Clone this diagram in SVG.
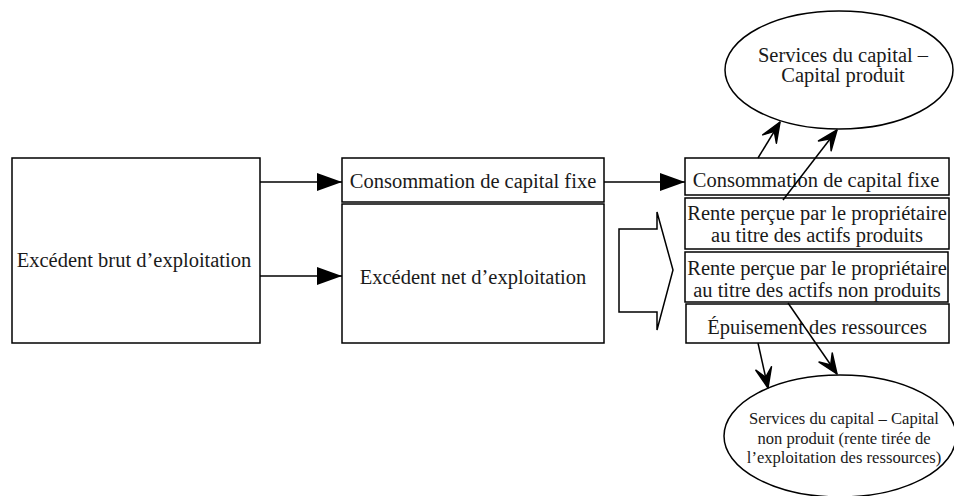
<svg xmlns="http://www.w3.org/2000/svg" width="954" height="496" viewBox="0 0 954 496">
<defs>
<style>
.box{fill:#fff;stroke:#000;stroke-width:1.5}
.t{font-family:"Liberation Serif","Times New Roman",serif;font-size:20.5px;fill:#1a1a1a;text-anchor:middle}
.ts{font-family:"Liberation Serif","Times New Roman",serif;font-size:16.6px;fill:#1a1a1a;text-anchor:middle}
.ln{stroke:#000;stroke-width:1.5;fill:none}
</style>
<marker id="tri" markerUnits="userSpaceOnUse" markerWidth="28" markerHeight="22" refX="25" refY="9" orient="auto">
<path d="M0,0 L25,9 L0,18 Z" fill="#000"/>
</marker>
<marker id="vee" markerUnits="userSpaceOnUse" markerWidth="26" markerHeight="22" refX="22" refY="10" orient="auto">
<path d="M22,10 L2,2 L11,10 L2,18 Z" fill="#000" stroke="#000" stroke-width="1.5" stroke-linejoin="round"/>
</marker>
</defs>
<rect width="954" height="496" fill="#fff"/>

<g id="ebe">
<rect class="box" x="12" y="158" width="248" height="185"/>
<text class="t" x="134" y="267">Excédent brut d’exploitation</text>
</g>

<g id="ccf-mid">
<rect class="box" x="342" y="158" width="262" height="44"/>
<text class="t" x="473" y="188">Consommation de capital fixe</text>
</g>

<g id="ene">
<rect class="box" x="342" y="204" width="262" height="139"/>
<text class="t" x="473" y="284">Excédent net d’exploitation</text>
</g>

<g id="block-arrow">
<path class="ln" d="M619,229 L657,229 L657,212 L673,270 L657,330 L657,312 L619,312 Z"/>
</g>

<g id="ccf-right">
<rect class="box" x="685" y="158" width="264" height="37"/>
<text class="t" x="816" y="187">Consommation de capital fixe</text>
</g>

<g id="rente-produits">
<rect class="box" x="685" y="198" width="264" height="51"/>
<text class="t" x="817" y="220">Rente perçue par le propriétaire</text>
<text class="t" x="817" y="242">au titre des actifs produits</text>
</g>

<g id="rente-non-produits">
<rect class="box" x="685" y="252" width="263" height="50"/>
<text class="t" x="817" y="275">Rente perçue par le propriétaire</text>
<text class="t" x="817" y="297">au titre des actifs non produits</text>
</g>

<g id="epuisement">
<rect class="box" x="686" y="304" width="263" height="39"/>
<text class="t" x="817" y="334">Épuisement des ressources</text>
</g>

<g id="services-produit">
<ellipse class="box" cx="839" cy="70" rx="114" ry="59"/>
<text class="t" x="843" y="62">Services du capital –</text>
<text class="t" x="843" y="82">Capital produit</text>
</g>

<g id="services-non-produit">
<ellipse class="box" cx="840" cy="436" rx="116" ry="61"/>
<text class="ts" x="844" y="424">Services du capital – Capital</text>
<text class="ts" x="844" y="444">non produit (rente tirée de</text>
<text class="ts" x="844" y="463">l’exploitation des ressources)</text>
</g>

<g id="connectors">
<line class="ln" x1="260" y1="182" x2="342" y2="182" marker-end="url(#tri)"/>
<line class="ln" x1="260" y1="276" x2="342" y2="276" marker-end="url(#tri)"/>
<line class="ln" x1="604" y1="182" x2="685" y2="182" marker-end="url(#tri)"/>
<line class="ln" x1="758" y1="158" x2="780" y2="122" marker-end="url(#vee)"/>
<line class="ln" x1="783" y1="200" x2="837" y2="130" marker-end="url(#vee)"/>
<line class="ln" x1="758" y1="343" x2="768" y2="388" marker-end="url(#vee)"/>
<line class="ln" x1="788" y1="303" x2="837" y2="374" marker-end="url(#vee)"/>
</g>
</svg>
